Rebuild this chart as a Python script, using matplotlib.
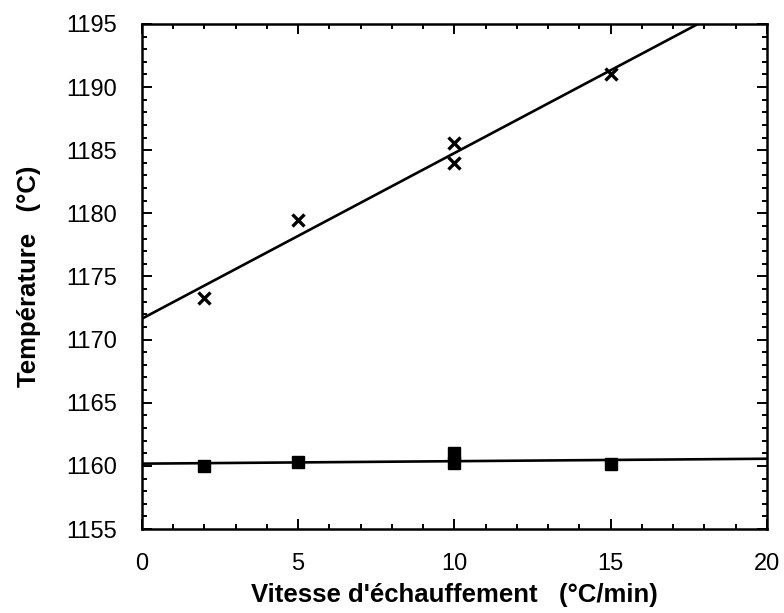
import numpy as np
import matplotlib
matplotlib.use('Agg')
import matplotlib.pyplot as plt
from matplotlib.ticker import MultipleLocator

# heating rate (degC/min) and measured temperatures (degC)
rate_cross = [2, 5, 10, 10, 15]
temp_cross = [1173.3, 1179.45, 1185.6, 1184.0, 1191.0]

rate_square = [2, 5, 10, 10, 15]
temp_square = [1160.0, 1160.3, 1161.0, 1160.25, 1160.15]

x_ticks = [0, 5, 10, 15, 20]
y_ticks = [1155, 1160, 1165, 1170, 1175, 1180, 1185, 1190, 1195]

plt.rcParams['font.family'] = ['Liberation Sans', 'DejaVu Sans']

fig = plt.figure(figsize=(7.84, 6.13), dpi=100)
ax = fig.add_axes([0.181, 0.137, 0.797, 0.824])

# linear fits drawn across the whole axis
xx = np.array([0.0, 20.0])
for xs, ys in [(rate_cross, temp_cross), (rate_square, temp_square)]:
    p = np.polyfit(xs, ys, 1)
    ax.plot(xx, np.polyval(p, xx), color='black', lw=1.9)

ax.plot(rate_cross, temp_cross, ls='none', marker='x', ms=9, mew=2.4, color='black')
ax.plot(rate_square, temp_square, ls='none', marker='s', ms=8, color='black')

ax.set_xlim(0, 20)
ax.set_ylim(1155, 1195)
ax.set_xticks(x_ticks)
ax.set_yticks(y_ticks)
ax.xaxis.set_minor_locator(MultipleLocator(1))
ax.yaxis.set_minor_locator(MultipleLocator(1))
ax.tick_params(which='both', direction='in', top=True, right=True, width=1.4)
ax.tick_params(which='major', length=7, labelsize=17)
ax.tick_params(axis='y', which='major', pad=18)
ax.tick_params(axis='x', which='major', pad=17)
ax.tick_params(which='minor', length=3.5)
for s in ax.spines.values():
    s.set_linewidth(1.8)

ax.set_xlabel("Vitesse d'échauffement   (°C/min)", fontsize=18.5, fontweight='bold', labelpad=6)
ax.set_ylabel("Température   (°C)", fontsize=18.5, fontweight='bold', labelpad=18)

fig.savefig('out.png', dpi=100)
